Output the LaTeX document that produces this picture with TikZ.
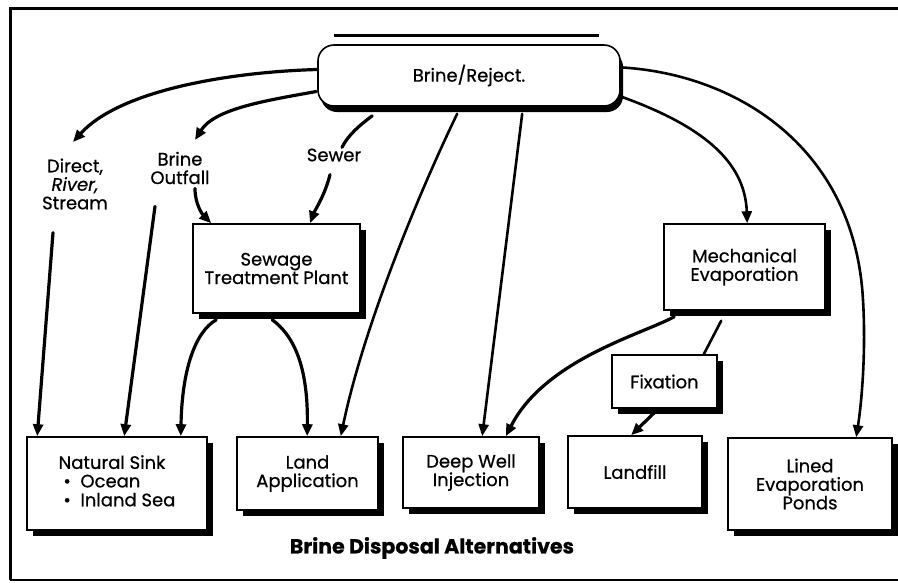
\documentclass[tikz,border=0pt]{standalone}
\usepackage{fontspec}
\setmainfont{Poppins}[FakeBold=0.6]
\usetikzlibrary{arrows.meta,shadows,calc}
\begin{document}
\begin{tikzpicture}[x=1pt,y=-1pt,
  txt/.style={font=\fontsize{18}{18.5}\selectfont, align=center, inner sep=1pt},
  box/.style={draw=black, line width=1.6pt, fill=white, txt,
    drop shadow={shadow xshift=6pt, shadow yshift=-6pt, fill=black, opacity=1}},
  conn/.style={line width=3.2pt, line cap=round},
  arr/.style={conn, -{Triangle[length=12pt,width=10pt]}},
  thin conn/.style={line width=2.6pt, line cap=round},
  thin arr/.style={thin conn, -{Triangle[length=12pt,width=10pt]}}
]
\useasboundingbox (0,0) rectangle (898,582);
% frame
\draw[line width=3pt] (898,8) -- (10,8) -- (10,580);
\draw[line width=1.5pt] (10,580) -- (898,580);

% top node
\node[draw=black, line width=1.6pt, fill=white, rounded corners=16pt, txt,
  minimum width=302pt, minimum height=61pt,
  drop shadow={shadow xshift=3pt, shadow yshift=-6pt, fill=black, opacity=1}]
  (brine) at (469,75.5) {Brine/Reject.};
\draw[line width=2.8pt] ($(brine.north west)+(17,-9)$) -- ($(brine.north east)+(-22,-9)$);

% boxes
\node[box, minimum width=167pt, minimum height=89pt] (stp) at (276.5,268.5) {Sewage\\Treatment Plant};
\node[box, minimum width=161pt, minimum height=86pt] (mech) at (744.5,267) {Mechanical\\Evaporation};
\node[box, minimum width=105pt, minimum height=53pt] (fix) at (664.5,381.5) {Fixation};
\node[box, minimum width=180pt, minimum height=93pt] (sink) at (117,483.5)
  {\begin{tabular}{@{}l@{}}Natural Sink\\ \ \textbullet\ \ Ocean\\ \ \textbullet\ \ Inland Sea\end{tabular}};
\node[box, minimum width=141pt, minimum height=73pt] (land) at (307.5,473.5) {Land\\Application};
\node[box, minimum width=136pt, minimum height=71pt] (deep) at (471,472.5) {Deep Well\\Injection};
\node[box, minimum width=134pt, minimum height=72pt] (fill) at (635,472) {Landfill};
\node[box, minimum width=164pt, minimum height=92pt] (ponds) at (810,484) {Lined\\Evaporation\\Ponds};

% labels
\node[txt] (direct) at (75,184) {Direct,\\\textit{River,}\\Stream};
\node[txt] (outfall) at (180,168) {Brine\\Outfall};
\node[txt] (sewer) at (334,155) {Sewer};
\node[font=\bfseries\fontsize{20.5}{22}\selectfont] (cap) at (432,548) {Brine Disposal Alternatives};

% connector ends near labels
\coordinate (dtip) at (73,142);
\coordinate (otip) at (195,140);

% connectors
\draw[arr] ($(brine.west)+(0,-6)$) .. controls (230,72) and (120,90) .. (dtip);
\draw[arr] ($(brine.west)+(-1,16)$) .. controls (270,100) and (215,108) .. (otip);
\draw[conn] ($(brine.south west)+(55,9)$) .. controls (360,125) and (348,135) .. ($(sewer.north)+(8,0)$);
\draw[arr] ($(sewer.south)+(-4,12)$) .. controls (325,195) and (315,210) .. ($(stp.north)+(33.5,0)$);
\draw[arr] ($(outfall.south)+(15,3)$) .. controls (195,205) and (203,215) .. ($(stp.north west)+(19,0)$);
\draw[arr] ($(direct.south)+(-22,22)$) -- ($(sink.north west)+(11,0)$);
\draw[arr] ($(outfall.south)+(-25,21)$) -- ($(sink.north west)+(98,0)$);
\draw[arr] ($(stp.south west)+(24,6)$) .. controls (195,332) and (182,370) .. ($(sink.north east)+(-27,0)$);
\draw[arr] ($(stp.south west)+(80,6)$) .. controls (300,340) and (308,380) .. ($(land.north west)+(71,0)$);
\draw[thin arr] ($(brine.south west)+(140,7)$) .. controls (425,180) and (365,320) .. ($(land.north east)+(-38,0)$);
\draw[thin arr] ($(brine.south west)+(205,7)$) -- ($(deep.north west)+(80,0)$);
\draw[arr] ($(mech.south west)+(11,6)$) .. controls (640,335) and (545,360) .. ($(deep.north east)+(-34,0)$);
\draw[thin conn] ($(mech.south west)+(58,10)$) -- ($(fix.north east)+(-14,0)$);
\draw[arr] ($(fix.south west)+(43,4)$) -- ($(fill.north west)+(64,0)$);
\draw[thin arr] ($(brine.east)+(0,21)$) .. controls (700,125) and (745,160) .. ($(mech.north west)+(84,0)$);
\draw[thin arr] ($(brine.east)+(2,-8)$) .. controls (740,75) and (855,150) .. (863,300)
  .. controls (866,350) and (862,400) .. ($(ponds.north west)+(129,0)$);
\end{tikzpicture}
\end{document}
